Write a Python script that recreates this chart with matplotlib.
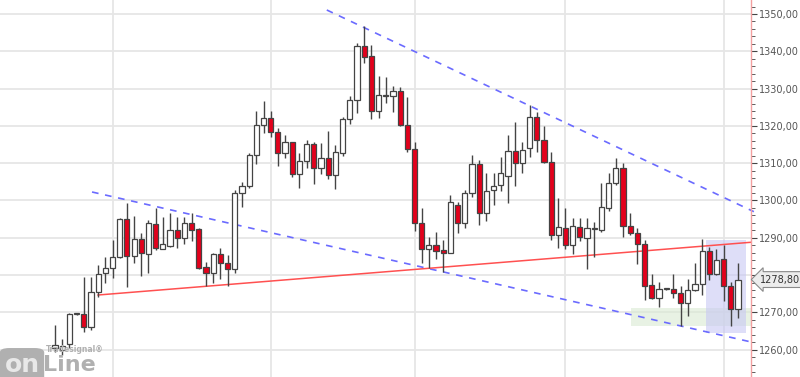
import matplotlib
matplotlib.use("Agg")
import matplotlib.pyplot as plt
from matplotlib.patches import Rectangle, FancyBboxPatch
import matplotlib.transforms as mtransforms
from matplotlib.ticker import MultipleLocator, FuncFormatter

# ---- data (OHLC per bar) ----
opens = [1260.5, 1260.0, 1261.5, 1269.5, 1269.57, 1266.08, 1275.47, 1280.56, 1281.90, 1284.85,
         1295.04, 1285.12, 1289.68, 1285.66, 1293.70, 1287.00, 1287.80, 1292.09, 1289.95, 1293.97,
         1292.36, 1282.17, 1280.56, 1285.66, 1283.24, 1281.63, 1302.01, 1303.89, 1312.20, 1320.24,
         1322.12, 1318.36, 1312.73, 1315.68, 1307.10, 1310.59, 1315.15, 1308.71, 1311.39, 1306.84,
         1312.73, 1321.85, 1326.94, 1341.42, 1338.74, 1323.99, 1328.00, 1328.02, 1329.36, 1320.24,
         1313.81, 1293.97, 1287.00, 1288.07, 1286.73, 1285.92, 1298.79, 1293.97, 1302.01, 1309.79,
         1296.65, 1302.81, 1304.15, 1306.57, 1313.27, 1310.05, 1314.07, 1322.39, 1316.22, 1310.32,
         1290.75, 1292.63, 1288.07, 1292.89, 1289.95, 1292.30, 1292.09, 1297.99, 1304.69, 1308.71,
         1293.16, 1291.29, 1288.34, 1277.35, 1273.86, 1276.20, 1276.27, 1275.20, 1272.52, 1276.00,
         1277.61, 1286.46, 1280.29, 1284.31, 1277.08, 1270.91]
highs = [1266.62, 1262.87, 1269.80, 1269.70, 1279.49, 1279.49, 1282.71, 1284.85, 1289.41, 1295.30,
         1299.33, 1295.84, 1291.29, 1294.77, 1297.99, 1295.58, 1296.65, 1295.58, 1295.58, 1296.65,
         1292.63, 1283.50, 1285.92, 1287.27, 1285.39, 1302.81, 1304.96, 1312.73, 1323.99, 1326.68,
         1323.99, 1319.44, 1317.56, 1315.70, 1312.73, 1316.22, 1315.68, 1315.42, 1318.63, 1314.88,
         1322.39, 1328.02, 1342.23, 1346.78, 1341.69, 1333.38, 1333.11, 1330.70, 1330.43, 1327.75,
         1315.68, 1297.99, 1290.21, 1291.55, 1289.41, 1301.47, 1299.60, 1302.81, 1312.20, 1310.86,
         1307.37, 1307.37, 1311.66, 1317.56, 1321.04, 1315.68, 1325.60, 1323.73, 1319.97, 1313.00,
         1300.67, 1297.99, 1295.31, 1295.31, 1295.31, 1294.24, 1304.69, 1307.37, 1311.39, 1310.05,
         1296.65, 1292.63, 1289.41, 1280.29, 1278.15, 1276.50, 1280.29, 1277.08, 1278.95, 1283.24,
         1289.68, 1287.53, 1287.00, 1288.07, 1278.15, 1283.24]
lows = [1259.5, 1258.5, 1260.5, 1269.40, 1264.74, 1265.28, 1274.13, 1277.88, 1279.22, 1284.60,
        1276.81, 1283.24, 1279.76, 1280.56, 1286.73, 1286.90, 1287.60, 1287.27, 1288.34, 1289.14,
        1281.70, 1277.08, 1277.88, 1278.95, 1277.08, 1280.56, 1298.26, 1303.35, 1309.79, 1318.10,
        1317.02, 1309.25, 1311.39, 1306.30, 1303.35, 1308.71, 1304.42, 1307.10, 1305.76, 1303.08,
        1311.90, 1320.51, 1323.46, 1336.86, 1321.85, 1322.12, 1326.14, 1323.73, 1320.10, 1313.00,
        1291.82, 1283.24, 1281.90, 1284.31, 1280.83, 1285.80, 1291.29, 1292.63, 1300.94, 1293.43,
        1294.50, 1298.79, 1302.55, 1299.33, 1303.89, 1307.37, 1311.66, 1313.00, 1310.05, 1289.41,
        1287.27, 1287.00, 1285.66, 1289.14, 1281.63, 1284.85, 1291.55, 1297.18, 1304.15, 1290.21,
        1290.75, 1282.98, 1273.32, 1273.59, 1271.45, 1276.00, 1273.86, 1266.35, 1269.03, 1275.74,
        1274.66, 1278.69, 1280.03, 1273.05, 1266.35, 1268.50]
closes = [1261.2, 1261.0, 1269.57, 1269.60, 1266.08, 1275.47, 1280.29, 1281.90, 1284.85, 1295.04,
          1285.12, 1289.68, 1285.92, 1293.97, 1287.27, 1288.34, 1292.09, 1289.95, 1293.97, 1292.09,
          1281.90, 1280.56, 1285.66, 1283.24, 1281.63, 1302.01, 1303.89, 1312.20, 1320.24, 1322.12,
          1318.36, 1312.73, 1315.68, 1307.10, 1310.59, 1315.15, 1308.71, 1311.39, 1306.84, 1313.00,
          1321.85, 1326.94, 1341.42, 1338.47, 1323.99, 1328.28, 1328.10, 1329.36, 1320.24, 1313.81,
          1293.97, 1287.00, 1288.07, 1286.46, 1285.92, 1299.60, 1293.97, 1302.01, 1309.79, 1296.65,
          1302.55, 1303.89, 1307.37, 1313.27, 1310.05, 1313.54, 1322.39, 1316.22, 1310.32, 1290.75,
          1292.89, 1288.07, 1293.16, 1290.21, 1292.63, 1292.40, 1298.26, 1304.69, 1308.71, 1293.16,
          1291.29, 1288.34, 1277.08, 1273.86, 1276.27, 1276.30, 1275.20, 1272.52, 1276.00, 1277.61,
          1286.46, 1280.29, 1284.05, 1277.08, 1270.91, 1278.80]

# trend lines: (bar index, price) endpoints
upper_channel = ([37.8, 97.2], [1351.07, 1297.0])
lower_channel = ([5.15, 97.2], [1302.28, 1261.9])
support_line = ([5.98, 96.8], [1274.66, 1288.8])
green_zone = (80.1, 96.8, 1266.35, 1271.18)
blue_zone = (90.6, 96.1, 1264.47, 1289.41)
month_lines = [8, 30, 50, 71, 93]
last_price = 1278.8

fig = plt.figure(figsize=(8.0, 3.77), dpi=100)
ax = fig.add_axes([0.0, 0.0, 751 / 800, 1.0])
ax.set_xlim(-7.65, 96.8)
ax.set_ylim(1252.68, 1353.75)

# grid
for yv in range(1260, 1351, 10):
    ax.axhline(yv, color="#e6e6e6", lw=1.3, zorder=0)
for xv in month_lines:
    ax.axvline(xv, color="#e6e6e6", lw=1.3, zorder=0)

# zones
gx0, gx1, gy0, gy1 = green_zone
ax.add_patch(Rectangle((gx0, gy0), gx1 - gx0, gy1 - gy0, facecolor="#d9ead3", alpha=0.6,
                       edgecolor="none", zorder=1))
bx0, bx1, by0, by1 = blue_zone
ax.add_patch(Rectangle((bx0, by0), bx1 - bx0, by1 - by0, facecolor="#c8c8f4", alpha=0.6,
                       edgecolor="none", zorder=1))

# trend lines
ax.plot(*upper_channel, color="#6b6bff", lw=1.2, ls=(0, (4, 4)), zorder=2, clip_on=False)
ax.plot(*lower_channel, color="#6b6bff", lw=1.2, ls=(0, (4, 4)), zorder=2, clip_on=False)
ax.plot(*support_line, color="#ff5050", lw=1.1, zorder=2)

# candles
n = len(opens)
xs = list(range(n))
ax.vlines(xs, lows, highs, color="#444444", lw=1.0, zorder=3)
for i in xs:
    o, c = opens[i], closes[i]
    lo = min(o, c)
    h = max(abs(c - o), 0.25)
    fc = "#e3001b" if c < o else "white"
    ax.bar(i, h, bottom=lo, width=0.72, facecolor=fc, edgecolor="#444444", lw=0.9, zorder=4)


def price_label(v, pos):
    # the 1280 label is covered by the last-price marker in the reference
    if abs(v - 1280) < 0.01:
        return ""
    return f"{v:.2f}".replace(".", ",")


# axes styling
for s in ["top", "left", "bottom"]:
    ax.spines[s].set_visible(False)
ax.spines["right"].set_color("#f2a0a0")
ax.spines["right"].set_linewidth(1.0)
ax.set_xticks([])
ax.yaxis.tick_right()
ax.yaxis.set_major_locator(MultipleLocator(10))
ax.yaxis.set_minor_locator(MultipleLocator(2))
ax.yaxis.set_major_formatter(FuncFormatter(price_label))
ax.tick_params(axis="y", which="major", length=4, color="#444444", labelsize=7.0,
               labelcolor="#555555", pad=2)
ax.tick_params(axis="y", which="minor", length=3, color="#444444")

# last price marker
trans = mtransforms.blended_transform_factory(ax.transAxes, ax.transData)
ax.text(1.012, last_price, f"{last_price:.2f}".replace(".", ","), transform=trans,
        ha="left", va="center", fontsize=7.0, color="#333333", zorder=6,
        bbox=dict(boxstyle="larrow,pad=0.3", fc="#ececec", ec="#8a8a8a", lw=0.8))

# logo
fig.patches.append(FancyBboxPatch((3 / 800, -0.02), 38 / 800, 35 / 377,
                                  boxstyle="round,pad=0.004,rounding_size=0.012",
                                  transform=fig.transFigure, fc="#b0b0b0", ec="none", zorder=10))
fig.text(22 / 800, 12 / 377, "on", ha="center", va="center", fontsize=18, fontweight="bold",
         color="#e8e8e8", zorder=11)
fig.text(43 / 800, 12 / 377, "Line", ha="left", va="center", fontsize=16, fontweight="bold",
         color="#b0b0b0", zorder=11)
fig.text(46 / 800, 28 / 377, "Tradesignal®", ha="left", va="center", fontsize=5.5,
         fontweight="bold", color="#b0b0b0", zorder=11)

fig.savefig("out.png", dpi=100)
